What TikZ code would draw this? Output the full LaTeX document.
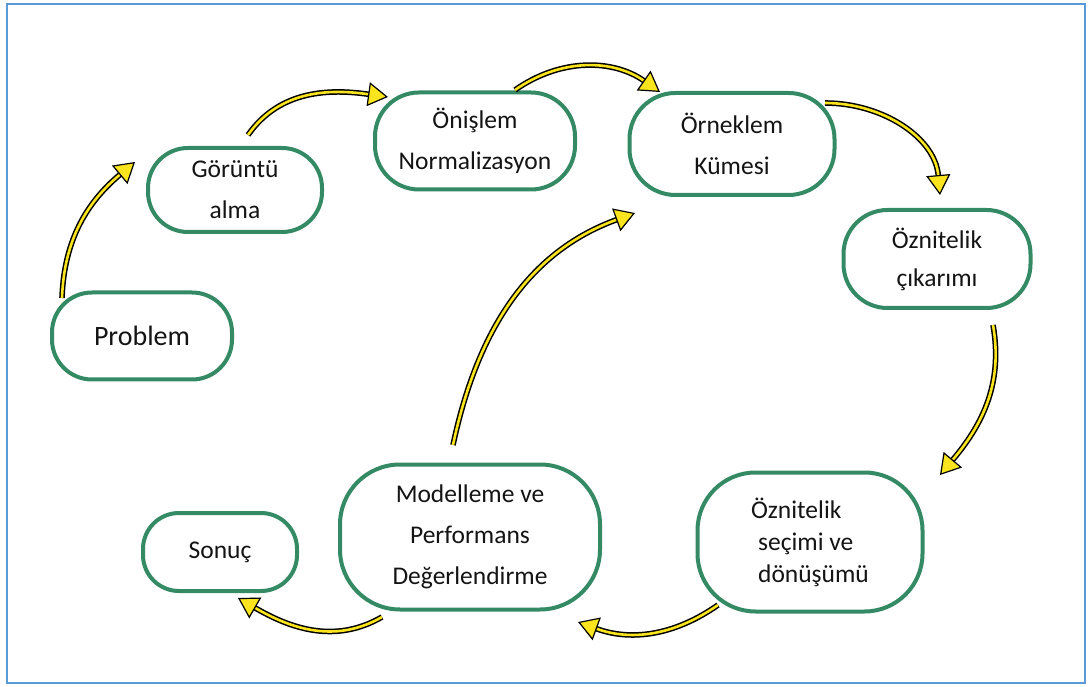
\documentclass[tikz,border=0pt]{standalone}
\usepackage{fontspec}
\setmainfont{Carlito}
\usetikzlibrary{arrows.meta}
\definecolor{verdeborde}{RGB}{52,138,100}
\definecolor{amarillo}{RGB}{250,228,30}
\definecolor{azulmarco}{RGB}{91,155,213}
\definecolor{texto}{RGB}{20,20,20}
\begin{document}
\begin{tikzpicture}[x=1pt,y=1pt,
		every node/.style={draw=verdeborde,line width=4pt,fill=white,
			rounded corners=40pt,align=center,text=texto,inner sep=4pt,
			font=\fontsize{25.5}{41}\selectfont},
		flecha/.style={line width=1.5pt,draw=black,double=amarillo,double distance=2.6pt,
			-{Triangle[length=20pt,width=24pt,color=black,fill=amarillo,line width=1.2pt]}}]
	\useasboundingbox (0,0) rectangle (1089,686);
	% Marco
	\draw[azulmarco,line width=2.5pt] (7,3) rectangle (1085,682);
	% Definir los nodos del ciclo
	\node[minimum width=180pt,minimum height=87pt,font=\fontsize{28}{34}\selectfont]
		(problem) at (142,350) {Problem};
	\node[minimum width=174pt,minimum height=84pt] (goruntu) at (235,496) {Görüntü\\ alma};
	\node[minimum width=200pt,minimum height=97pt,rounded corners=44pt] (onislem) at (475,545) {Önişlem\\ Normalizasyon};
	\node[minimum width=205pt,minimum height=102pt,rounded corners=46pt] (orneklem) at (732,542) {Örneklem\\ Kümesi};
	\node[minimum width=187pt,minimum height=98pt,rounded corners=44pt,font=\fontsize{25.5}{38}\selectfont]
		(cikarim) at (937,427) {Öznitelik\\ çıkarımı};
	\node[minimum width=225pt,minimum height=139pt,rounded corners=58pt,align=left,font=\fontsize{25.5}{32}\selectfont]
		(secim) at (810,144) {%
		  Öznitelik\\
		  \hspace*{7pt}seçimi ve\\
		  \hspace*{7pt}dönüşümü
		};
	\node[minimum width=260pt,minimum height=145pt,rounded corners=60pt] (model) at (470,149) {%
		  Modelleme ve\\
		  Performans\\
		  Değerlendirme
		};
	\node[minimum width=154pt,minimum height=78pt,rounded corners=36pt] (sonuc) at (220,134) {Sonuç};
	% Flechas
	\draw[flecha] ([shift={(-80,38)}]problem.center) to[out=88,in=220] ([shift={(-100,28)}]goruntu.center);
	\draw[flecha] ([shift={(13,55)}]goruntu.center) to[out=55,in=172] ([shift={(-87,44)}]onislem.center);
	\draw[flecha] ([shift={(40,51)}]onislem.center) to[out=35,in=145] ([shift={(-72,52)}]orneklem.center);
	\draw[flecha] ([shift={(93,41)}]orneklem.center) to[out=0,in=95] ([shift={(3,64)}]cikarim.center);
	\draw[flecha] ([shift={(56,-66)}]cikarim.center) to[out=-80,in=50] ([shift={(130,67)}]secim.center);
	\draw[flecha] ([shift={(-92,-63)}]secim.center) to[out=215,in=-20] ([shift={(108,-85)}]model.center);
	\draw[flecha] ([shift={(-88,-80)}]model.center) to[out=210,in=-30] ([shift={(18,-46)}]sonuc.center);
	\draw[flecha] ([shift={(-17,92)}]model.center) to[out=78,in=200] ([shift={(-97,-69)}]orneklem.center);
\end{tikzpicture}
\end{document}
